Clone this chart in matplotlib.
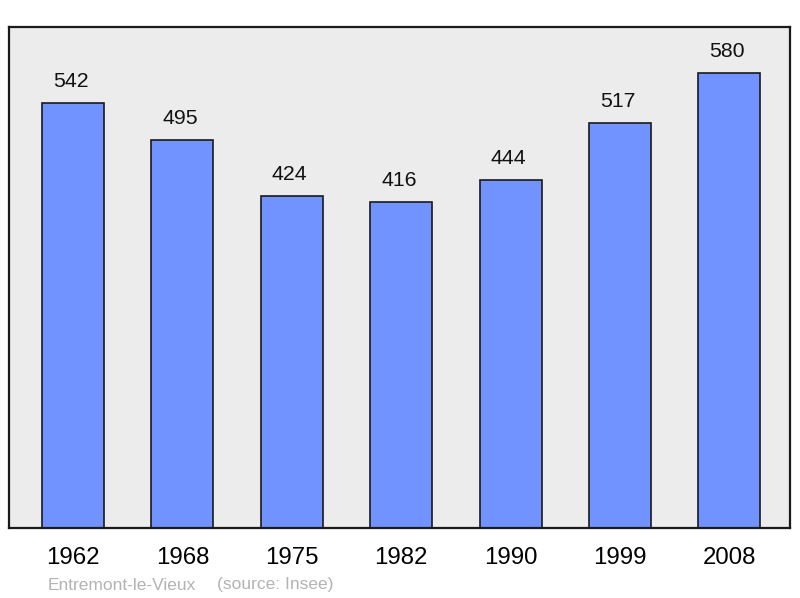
import matplotlib.pyplot as plt

years = ["1962", "1968", "1975", "1982", "1990", "1999", "2008"]
population = [542, 495, 424, 416, 444, 517, 580]

plt.rcParams['font.family'] = ['Liberation Sans', 'DejaVu Sans']

fig = plt.figure(figsize=(8, 5.98), dpi=100)
# axes box in pixels: x 9..790, y 27..528 (from top)
ax = fig.add_axes([9 / 800, (598 - 528) / 598, 781 / 800, 501 / 598])
ax.set_facecolor('#ececec')

x = list(range(len(years)))
ax.bar(x, population, width=0.567, color='#7093ff',
       edgecolor='#1a1a1a', linewidth=1.2, zorder=2)

for xi, v in zip(x, population):
    ax.annotate(str(v), (xi, v), xytext=(-1.5, 8.5), textcoords='offset points',
                ha='center', va='bottom', fontsize=15.3, color='#111111')

ax.set_xlim(-0.585, 6.555)
ax.set_ylim(0, 639)
ax.set_xticks(x)
ax.set_xticklabels(years, fontsize=17.3)
ax.tick_params(axis='x', length=0, pad=13.5)
ax.set_yticks([])
for s in ax.spines.values():
    s.set_linewidth(1.6)
    s.set_color('#1a1a1a')

fig.text(48 / 800, 1 - 585 / 598, "Entremont-le-Vieux", fontsize=12.5,
         color='#b3b3b3', va='center', ha='left')
fig.text(217 / 800, 1 - 585 / 598, "(source: Insee)", fontsize=12.5,
         color='#b3b3b3', va='center', ha='left')

fig.savefig("out.png", dpi=100, facecolor='white')
